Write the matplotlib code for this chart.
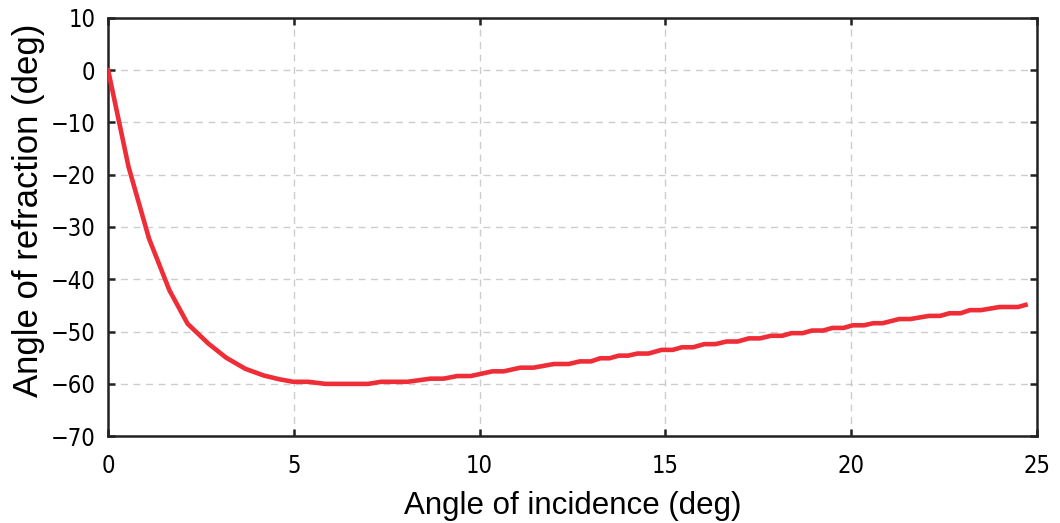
import matplotlib
matplotlib.use("Agg")
import matplotlib.pyplot as plt

# incidence angle (deg) and refraction angle (deg)
incidence = [0.0, 0.55, 1.1, 1.65, 2.14, 2.7, 3.18, 3.69, 4.19, 4.6, 4.98, 5.39,
             5.85, 7.0, 7.35, 8.06, 8.68, 9.03, 9.4, 9.76, 10.35, 10.65, 11.1, 11.45,
             12.0, 12.4, 12.7, 13.0, 13.25, 13.5, 13.75, 14.0, 14.25, 14.55, 14.9, 15.2,
             15.45, 15.75, 16.05, 16.35, 16.65, 16.95, 17.25, 17.55, 17.85, 18.15,
             18.4, 18.7, 18.95, 19.25, 19.5, 19.8, 20.05, 20.35, 20.6, 20.85, 21.3,
             21.6, 22.1, 22.4, 22.65, 22.95, 23.2, 23.5, 23.75, 24.0, 24.5, 24.7]
refraction = [0.0, -18.5, -32.2, -42.1, -48.5, -52.3, -55.0, -57.1, -58.4, -59.1, -59.6, -59.6,
              -60.0, -60.0, -59.6, -59.6, -59.0, -59.0, -58.5, -58.5, -57.6, -57.6, -56.9, -56.9,
              -56.2, -56.2, -55.7, -55.7, -55.1, -55.1, -54.6, -54.6, -54.2, -54.2, -53.5, -53.5,
              -53.0, -53.0, -52.4, -52.4, -51.9, -51.9, -51.3, -51.3, -50.8, -50.8,
              -50.3, -50.3, -49.8, -49.8, -49.3, -49.3, -48.8, -48.8, -48.4, -48.4, -47.6,
              -47.6, -47.0, -47.0, -46.5, -46.5, -45.9, -45.9, -45.6, -45.3, -45.3, -44.9]

x_ticks = [0, 5, 10, 15, 20, 25]
y_ticks = [10, 0, -10, -20, -30, -40, -50, -60, -70]

fig = plt.figure(figsize=(10.6, 5.23), dpi=100)
ax = fig.add_axes([0.102, 0.166, 0.876, 0.8])

ax.plot(incidence, refraction, color="#ee2d36", lw=3.3, solid_joinstyle="round", zorder=3)

ax.set_xlim(0, 25)
ax.set_ylim(-70, 10)
ax.set_xticks(x_ticks)
ax.set_yticks(y_ticks)
ax.set_xticklabels([str(v) for v in x_ticks])
ax.set_yticklabels([str(v).replace("-", "\u2212") for v in y_ticks])

ax.grid(True, color="#cccccc", linestyle=(0, (5, 4)), linewidth=1.0)
ax.set_axisbelow(True)

for s in ax.spines.values():
    s.set_linewidth(1.8)
    s.set_color("#222222")

ax.tick_params(direction="in", length=5, width=1.8, color="#222222",
               top=True, right=True, labelsize=17, pad=9)
ax.tick_params(axis="x", pad=13)
for lab in ax.get_xticklabels() + ax.get_yticklabels():
    lab.set_family("DejaVu Sans")
    lab.set_stretch("condensed")

ax.set_xlabel("Angle of incidence (deg)", fontsize=22.5, family="Liberation Sans", labelpad=9)
ax.set_ylabel("Angle of refraction (deg)", fontsize=25, family="Liberation Sans")
ax.yaxis.set_label_coords(-0.068, 0.54)

fig.savefig("out.png", dpi=100)
